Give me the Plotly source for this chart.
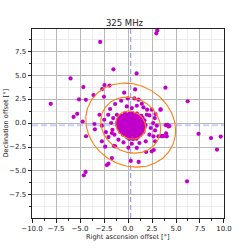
import numpy as np
import plotly.graph_objects as go

# --- data -----------------------------------------------------------------
title_text = "325 MHz"
x_label = "Right ascension offset [°]"
y_label = "Declination offset [°]"

# scattered sources (RA offset, Dec offset) in degrees
outer_x = [3.05, 2.95, -2.9, -1.52, 0.9, -5.98, -4.65, -2.45, -1.93, -2.69, 0.74, -0.4, 3.9,
           -3.59, -2.5, -5.1, -4.39, -8.05, 6.22, -5.29, -5.67, -4.72, -4.37, -3.5, -3.45,
           7.35, 8.65, 9.66, 9.27, 6.15, -4.42, -4.6, -1.68, -2.03, -2.2, 0.29, 1.11,
           4.1, 4.31, 3.97, 3.97, 3.55, 3.4]
outer_y = [9.65, 9.35, 8.45, 5.6, 5.17, 4.65, 3.75, 3.95, 3.9, 3.54, 3.5, 3.16, 3.68,
           2.91, 2.74, 2.46, 2.42, 2.0, 2.27, 0.96, 0.64, 0.16, -1.38, -0.1, -0.66,
           -1.13, -1.57, -1.41, -2.77, -6.08, -5.1, -5.45, -3.65, -4.24, -4.38, -3.95, -4.06,
           -0.18, -0.32, -1.08, -1.36, -1.36, 1.42]

mid_x = [-0.71, -0.02, 0.67, 1.61, 1.99, 2.48, 3.38, 2.23, 2.79, 2.62, 3.0, 2.37, 2.82,
         2.23, 2.65, 3.17, 3.69, 2.82, 1.85, 1.19, 0.92, 1.89, 2.48, 2.69, 0.05, 0.4,
         -0.47, -0.99, -1.34, -2.03, -2.3, -2.72, -2.97, -2.48, -2.06, -1.75, -1.62, -1.41,
         -1.86, -1.34, -1.16, -1.68, -1.54, 1.44, 1.09, 1.96, 0.4, -0.12, 0.92,
         2.86, 3.93, 4.21, 4.04, 3.48, -2.72, -2.38, -1.47]
mid_y = [2.32, 2.56, 2.56, 1.63, 1.39, 1.39, 1.39, 0.79, 0.52, 0.0, -0.28, -0.52, -0.77,
         -1.22, -1.39, -1.39, -1.36, -1.91, -1.91, -2.08, -2.6, -3.02, -2.95, -2.81, -2.57, -2.16,
         -2.02, -1.74, -2.44, -1.46, -0.94, -0.28, 0.86, 0.34, 0.86, 0.0, -0.7, -1.22,
         1.46, 1.98, 0.86, -1.04, 0.52, 2.01, 2.43, 0.86, 1.56, 1.73, 1.8,
         0.94, -0.21, -0.35, -1.39, -1.36, -1.91, -2.47, -2.37]

core_x = [-0.32, 0.12, 0.47, 0.93,
          -0.71, -0.38, -0.08, 0.23, 0.52, 0.81, 1.12, 1.38,
          -0.93, -0.61, -0.27, 0.03, 0.31, 0.62, 0.88, 1.21, 1.52,
          -1.04, -0.72, -0.41, -0.12, 0.19, 0.51, 0.79, 1.13, 1.42, 1.71,
          -1.12, -0.83, -0.48, -0.21, 0.11, 0.42, 0.69, 1.02, 1.31, 1.63,
          -1.13, -0.79, -0.52, -0.19, 0.08, 0.41, 0.72, 0.98, 1.29, 1.58, 1.83,
          -1.02, -0.69, -0.42, -0.08, 0.21, 0.49, 0.83, 1.09, 1.41, 1.72,
          -0.92, -0.58, -0.31, 0.02, 0.32, 0.58, 0.91, 1.18, 1.52,
          -0.81, -0.48, -0.22, 0.13, 0.39, 0.72, 0.99, 1.32, 1.61,
          -0.52, -0.18, 0.09, 0.42, 0.68, 1.03, 1.31,
          -0.12, 0.28, 0.72, 1.08,
          0.12, 0.52, 0.88]
core_y = [1.02, 0.98, 1.04, 0.97,
          0.78, 0.82, 0.79, 0.81, 0.77, 0.83, 0.78, 0.76,
          0.56, 0.53, 0.57, 0.52, 0.58, 0.54, 0.51, 0.56, 0.53,
          0.31, 0.28, 0.33, 0.27, 0.32, 0.29, 0.34, 0.28, 0.31, 0.27,
          0.06, 0.03, 0.08, 0.04, 0.07, 0.02, 0.05, 0.08, 0.03, 0.06,
          -0.21, -0.18, -0.22, -0.19, -0.23, -0.17, -0.21, -0.18, -0.22, -0.19, -0.21,
          -0.44, -0.47, -0.43, -0.46, -0.42, -0.48, -0.44, -0.46, -0.43, -0.47,
          -0.71, -0.68, -0.72, -0.69, -0.73, -0.67, -0.71, -0.69, -0.72,
          -0.94, -0.97, -0.93, -0.96, -0.92, -0.98, -0.94, -0.96, -0.93,
          -1.21, -1.18, -1.22, -1.19, -1.23, -1.17, -1.21,
          -1.46, -1.43, -1.47, -1.44,
          -1.66, -1.69, -1.64]

# mean offset and spread (for dashed lines and 1/2/3-sigma ellipses)
center_x = 0.28
center_y = -0.22
sigma_x = 1.56
sigma_y = 1.46
rho = -0.13
sigma_levels = [1, 2, 3]

# --- figure ---------------------------------------------------------------
xs = outer_x + mid_x + core_x
ys = outer_y + mid_y + core_y

fig = go.Figure()

fig.add_trace(go.Scatter(x=[center_x, center_x], y=[-9.9, 9.8], mode="lines",
                         line=dict(color="rgba(100,100,255,0.75)", width=1, dash="5px,3px"),
                         hoverinfo="skip", showlegend=False))
fig.add_trace(go.Scatter(x=[-10, 10], y=[center_y, center_y], mode="lines",
                         line=dict(color="rgba(130,130,255,0.4)", width=2, dash="6px,3px"),
                         hoverinfo="skip", showlegend=False))

fig.add_trace(go.Scatter(x=xs, y=ys, mode="markers",
                         marker=dict(color="#c000c8", size=4.2, line=dict(width=0)),
                         showlegend=False))

cov = np.array([[sigma_x**2, rho*sigma_x*sigma_y], [rho*sigma_x*sigma_y, sigma_y**2]])
L = np.linalg.cholesky(cov)
t = np.linspace(0, 2*np.pi, 200)
circ = np.vstack([np.cos(t), np.sin(t)])
for k in sigma_levels:
    pts = k * (L @ circ)
    fig.add_trace(go.Scatter(x=pts[0] + center_x, y=pts[1] + center_y, mode="lines",
                             line=dict(color="#ff7f0e", width=1.1),
                             hoverinfo="skip", showlegend=False))

axis_common = dict(
    automargin=False,
    showgrid=True, gridcolor="#b8b8b8", gridwidth=1,
    zeroline=False, showline=True, linecolor="#222", linewidth=1, mirror=True,
    ticks="outside", ticklen=3.5, tickcolor="#222", tickwidth=1,
    tickformat=".1f", dtick=2.5, tick0=0,
    tickfont=dict(size=7, color="#222", family="DejaVu Sans"),
    minor=dict(dtick=1.25, tick0=0, showgrid=True, gridcolor="#ececec", gridwidth=1,
               ticks="outside", ticklen=2, tickcolor="#222"),
)

fig.update_layout(
    width=249, height=249,
    margin=dict(l=32, r=25, t=29, b=31, autoexpand=False),
    paper_bgcolor="white", plot_bgcolor="white",
    font=dict(family="DejaVu Sans", color="#222"),
    title=dict(text=title_text, x=0.5, xanchor="center", y=1 - 23/249, yanchor="middle",
               font=dict(size=8.5, color="#222")),
    xaxis=dict(range=[-10.001, 10.001], **axis_common),
    yaxis=dict(range=[-9.9, 9.8], **axis_common),
    annotations=[
        dict(text=x_label, xref="paper", yref="paper", x=0.5, y=-(236.5 - 218) / 189,
             xanchor="center", yanchor="middle", showarrow=False,
             font=dict(size=6.6, color="#222")),
        dict(text=y_label, xref="paper", yref="paper", x=-(32 - 5) / 192, y=0.5,
             xanchor="center", yanchor="middle", textangle=-90, showarrow=False,
             font=dict(size=6.6, color="#222")),
    ],
)

fig.write_html("out.html", config={"responsive": False, "displayModeBar": False},
               post_script="document.body.style.margin='0px';")
